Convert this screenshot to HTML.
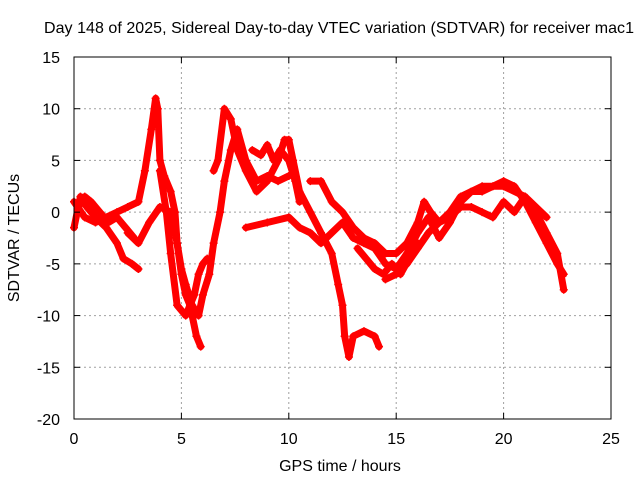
<!DOCTYPE html>
<html><head><meta charset="utf-8"><style>
body{margin:0;background:#fff}
svg{display:block;font-family:"Liberation Sans",sans-serif}
</style></head><body>
<svg id="chart" width="640" height="480">
<rect width="640" height="480" fill="#fff"/>
<text x="339" y="33" font-size="16" text-anchor="middle" textLength="590">Day 148 of 2025, Sidereal Day-to-day VTEC variation (SDTVAR) for receiver mac1</text>
<text x="340" y="471" font-size="16" text-anchor="middle">GPS time / hours</text>
<text x="0" y="0" font-size="16" text-anchor="middle" transform="translate(19,238) rotate(-90)">SDTVAR / TECUs</text>
<g id="grid"></g><g id="marks"></g><g id="axes"></g>
</svg>
<script>
const xTicks=[0,5,10,15,20,25];
const yTicks=[15,10,5,0,-5,-10,-15,-20];
const track1=[[0,-1.5],[0.3,1.5],[0.6,0.5],[1,-0.5],[1.5,-1.5],[2,-3],[2.3,-4.5],[2.7,-5],[3,-5.5]];
const track2=[[0,1],[0.5,-0.5],[1,-1],[1.5,-0.5],[2,0],[2.5,0.5],[3,1],[3.3,4],[3.6,8],[3.8,11],[3.9,10],[4,5],[4.2,3.5],[4.5,2],[4.7,0],[4.8,-3],[5,-6],[5.2,-8],[5.4,-9],[5.7,-12],[5.9,-13]];
const track3=[[2.5,-2],[3,-3],[3.5,-1],[4,0.5],[4.5,0],[4.8,-3],[5,-5.5],[5.2,-7],[5.5,-9],[5.8,-10],[6,-8],[6.3,-6],[6.5,-3],[6.8,0],[7,3],[7.3,6],[7.6,8],[8,5],[8.5,3],[9,3.5],[9.5,3],[10,3.5]];
const track4=[[4,4],[4.3,0],[4.5,-4],[4.8,-9],[5.2,-10],[5.6,-8],[5.8,-6],[6,-5],[6.2,-4.5]];
const track5=[[6.5,4],[6.7,5],[7,10],[7.3,9],[7.6,6],[8,4],[8.5,2],[9,3],[9.5,5],[9.8,7],[10,7],[10.2,5],[10.5,2],[11,0],[11.5,-2],[12,-4],[12.3,-7],[12.5,-9],[12.6,-12],[12.8,-14],[13,-12],[13.5,-11.5],[14,-12],[14.2,-13]];
const track6=[[8,-1.5],[9,-1],[10,-0.5],[10.5,-1.5],[11,-2],[11.5,-3],[12,-2],[12.5,-1],[13,-2.5],[13.5,-3],[14,-3.5],[14.5,-5],[15,-5.5],[15.5,-4],[16,-2],[16.5,-0.5],[17,-2.5],[17.5,-1],[18,1],[18.5,2],[19,2],[19.5,2.5],[20,3],[20.5,2.5],[21,1],[21.5,-1],[22,-3],[22.5,-5],[22.8,-6]];
const track7=[[11,3],[11.5,3],[12,1],[12.5,0],[13,-1.5],[13.5,-2.5],[14,-3],[14.5,-4],[15,-4],[15.5,-3],[16,-1],[16.3,1],[16.6,0],[17,-1],[17.5,-0.5],[18,0.5],[18.5,0.5],[19,0],[19.5,-0.5],[20,1],[20.5,0],[21,1.5],[21.5,0],[22,-2],[22.5,-4],[22.8,-7.5]];
const track8=[[14.5,-6.5],[15,-6],[15.5,-5],[16,-3.5],[16.5,-2],[17,-1],[17.5,0],[18,1.5],[19,2.5],[20,2.5],[21,1.5],[22,-0.5]];
const track9=[[0.2,0.5],[0.5,1.5],[0.8,1],[1.2,0],[1.6,-1],[2,-0.5],[2.4,-1.5],[2.8,-2.5]];
const track10=[[8.3,6],[8.7,5.5],[9,6.5],[9.3,5],[9.6,6],[10,5],[10.3,3],[10.5,1]];
const track11=[[13.2,-3.5],[13.6,-4.5],[14,-5.5],[14.4,-6],[14.8,-5],[15.2,-6],[15.6,-4.5],[16,-3]];
const tracks=[track1,track2,track3,track4,track5,track6,track7,track8,track9,track10,track11];
const X0=74,X1=611,Y0=57,Y1=419;
const sx=v=>X0+(v-0)/(25-0)*(X1-X0);
const sy=v=>Y0+(15-v)/(15-(-20))*(Y1-Y0);
const NS="http://www.w3.org/2000/svg";
function mk(t,a,p){const e=document.createElementNS(NS,t);for(const k in a)e.setAttribute(k,a[k]);p.appendChild(e);return e;}
const grid=document.getElementById('grid'),axes=document.getElementById('axes'),marks=document.getElementById('marks');
xTicks.forEach(t=>{
 const x=sx(t);
 if(t>0&&t<25){const l=mk('line',{x1:x,x2:x,y1:Y0,y2:Y1,stroke:'#a0a0a0','stroke-dasharray':'2,3'},grid);
 
 }
 mk('line',{x1:x,x2:x,y1:Y1,y2:Y1-6,stroke:'#000'},axes);
 mk('line',{x1:x,x2:x,y1:Y0,y2:Y0+6,stroke:'#000'},axes);
 const tx=mk('text',{x:x,y:Y1+25,'font-size':16,'text-anchor':'middle'},axes);tx.textContent=t;
 
 
});
yTicks.forEach(t=>{
 const y=sy(t);
 if(t<15&&t>-20){const l=mk('line',{x1:X0,x2:X1,y1:y,y2:y,stroke:'#a0a0a0','stroke-dasharray':'2,3'},grid);
 
 }
 mk('line',{x1:X0,x2:X0+6,y1:y,y2:y,stroke:'#000'},axes);
 mk('line',{x1:X1,x2:X1-6,y1:y,y2:y,stroke:'#000'},axes);
 const tx=mk('text',{x:X0-14,y:y+6,'font-size':16,'text-anchor':'end'},axes);tx.textContent=t;
 
 
});
const fr=mk('rect',{x:X0,y:Y0,width:X1-X0,height:Y1-Y0,fill:'none',stroke:'#000'},axes);


tracks.forEach((tr,i)=>{
 const g=mk('g',{},marks);
 
 
 mk('polyline',{points:tr.map(p=>sx(p[0])+','+sy(p[1])).join(' '),fill:'none',stroke:'#f00','stroke-width':7,'stroke-linejoin':'round','stroke-linecap':'round'},g);
 tr.forEach(p=>{
  const x=sx(p[0]),y=sy(p[1]);
  const m=mk('path',{d:`M${x-4},${y}H${x+4}M${x},${y-4}V${y+4}`,stroke:'#f00','stroke-width':1.5},g);
  
  
 });
});
</script>
</body></html>
